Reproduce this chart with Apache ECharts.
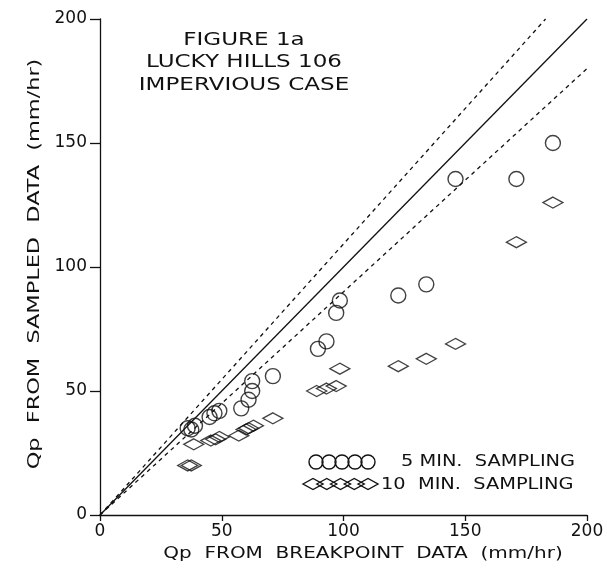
<!DOCTYPE html>
<html><head><meta charset="utf-8">
<script src="https://cdn.jsdelivr.net/npm/echarts@6/dist/echarts.min.js"></script>
<style>html,body{margin:0;padding:0;background:#fff;}#c{width:607px;height:578px;}</style>
</head><body><div id="c"></div>
<script>
// ---- data ----
const xTicks = [0, 50, 100, 150, 200];
const yTicks = [0, 50, 100, 150, 200];
const sampling5min = [
  [186,150],[171,135.5],[146,135.5],[134,93],[122.5,88.5],[98.5,86.5],[97,81.5],
  [93,70],[89.5,67],[71,56],[62.5,54],[62.5,50],[61,46.5],[58,43],[49,42],[47,41],
  [45,39.5],[39,36],[36,35],[37.5,34.5]
];
const sampling10min = [
  [186,126],[171,110],[146,69],[134,63],[122.5,60],[98.5,59],[97,52],[93,51],[89,50],
  [71,39],[63,36],[61,35],[60,34.5],[57,32],[49,31.5],[47.5,30.5],[45.5,30],[38.5,28.5],
  [36,20],[37.5,20]
];
const lineOneToOne = [[0,0],[200,200]];
const lineUpper = [[0,0],[183,200]];
const lineLower = [[0,0],[200,180]];
const titleLines = ['FIGURE 1a', 'LUCKY HILLS 106', 'IMPERVIOUS CASE'];
const legendLabels = ['5 MIN.  SAMPLING', '10  MIN.  SAMPLING'];
const xTitle = 'Qp  FROM  BREAKPOINT  DATA  (mm/hr)';
const yTitle = 'Qp  FROM  SAMPLED  DATA  (mm/hr)';

// ---- chart ----
const FONT = 'DejaVu Sans';
const INK = '#111';
const chart = echarts.init(document.getElementById('c'), null, {renderer: 'canvas'});

function txt(text, x, y, opts) {
  opts = opts || {};
  return {
    type: 'text', x: x, y: y, rotation: opts.rotation || 0,
    scaleX: opts.scaleX || 1.25, scaleY: 1, silent: true,
    style: {text: text, fill: INK, fontFamily: FONT, fontSize: opts.size || 16,
      align: opts.align || 'center', verticalAlign: 'middle'}
  };
}

const graphics = [];
titleLines.forEach((t, i) => graphics.push(txt(t, 244, 40 + i * 22.5, {size: 18, scaleX: 1.28})));
graphics.push(txt(xTitle, 363, 554));
graphics.push(txt(yTitle, 35, 264, {rotation: Math.PI / 2, scaleX: 1.4}));
// legend symbols
for (let i = 0; i < 5; i++) {
  graphics.push({type: 'circle', silent: true, shape: {cx: 316 + i * 13, cy: 462, r: 7},
    style: {fill: 'none', stroke: INK, lineWidth: 1.4}});
  const cx = 313 + i * 13.75, cy = 484;
  graphics.push({type: 'polygon', silent: true,
    shape: {points: [[cx - 10, cy], [cx, cy - 5.5], [cx + 10, cy], [cx, cy + 5.5]]},
    style: {fill: 'none', stroke: INK, lineWidth: 1.4}});
}
graphics.push(txt(legendLabels[0], 401, 462, {align: 'left', scaleX: 1.21}));
graphics.push(txt(legendLabels[1], 381, 485, {align: 'left', scaleX: 1.21}));

const lineStyleBase = {color: INK, width: 1.3};
chart.setOption({
  animation: false,
  backgroundColor: '#fff',
  grid: {left: 100, right: 20, top: 19, bottom: 63, containLabel: false},
  xAxis: {
    type: 'value', min: xTicks[0], max: xTicks[xTicks.length - 1], interval: 50,
    axisLine: {show: true, lineStyle: {color: INK, width: 1.3}},
    axisTick: {show: true, inside: false, length: 6, lineStyle: {color: INK, width: 1.3}},
    axisLabel: {color: INK, fontFamily: FONT, fontSize: 17, margin: 8},
    splitLine: {show: false}
  },
  yAxis: {
    type: 'value', min: yTicks[0], max: yTicks[yTicks.length - 1], interval: 50,
    axisLine: {show: true, lineStyle: {color: INK, width: 1.3}},
    axisTick: {show: true, inside: false, length: 10, lineStyle: {color: INK, width: 1.3}},
    axisLabel: {color: INK, fontFamily: FONT, fontSize: 17, margin: 13},
    splitLine: {show: false}
  },
  series: [
    {type: 'line', data: lineOneToOne, symbol: 'none', lineStyle: lineStyleBase, z: 2},
    {type: 'line', data: lineUpper, symbol: 'none', lineStyle: Object.assign({type: [4, 4]}, lineStyleBase), z: 2},
    {type: 'line', data: lineLower, symbol: 'none', lineStyle: Object.assign({type: [4, 4]}, lineStyleBase), z: 2},
    {type: 'scatter', name: '5 MIN. SAMPLING', data: sampling5min, symbol: 'circle', symbolSize: 15,
      itemStyle: {color: 'rgba(0,0,0,0)', borderColor: INK, borderWidth: 1.4}, z: 3},
    {type: 'scatter', name: '10 MIN. SAMPLING', data: sampling10min, symbol: 'diamond', symbolSize: [20, 11],
      itemStyle: {color: 'rgba(0,0,0,0)', borderColor: INK, borderWidth: 1.4}, z: 3}
  ],
  graphic: graphics
});
</script></body></html>
